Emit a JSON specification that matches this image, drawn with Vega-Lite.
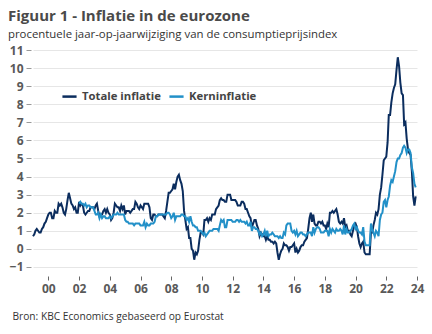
{
"$schema": "https://vega.github.io/schema/vega-lite/v6.json",
"width": 384, "height": 226,
"autosize": {"type": "none"},
"padding": {"left": 33, "top": 50, "right": 15, "bottom": 58},
"background": "white",
"config": {"view": {"stroke": null}, "font": "Open Sans"},
"title": {"text": "Figuur 1 - Inflatie in de eurozone", "subtitle": "procentuele jaar-op-jaarwijziging van de consumptieprijsindex", "anchor": "start", "frame": "group", "dx": -25, "offset": 4, "font": "Open Sans", "fontSize": 15, "fontWeight": "bold", "color": "#4a4a4a", "subtitleFont": "Open Sans", "subtitleFontSize": 11.4, "subtitleColor": "#333333", "subtitlePadding": 5},
"data": {"values": [
{"maand":"1999-01","Totale inflatie":0.7,"Kerninflatie":null},{"maand":"1999-02","Totale inflatie":0.8,"Kerninflatie":null},{"maand":"1999-03","Totale inflatie":1.0,"Kerninflatie":null},{"maand":"1999-04","Totale inflatie":1.1,"Kerninflatie":null},{"maand":"1999-05","Totale inflatie":1.0,"Kerninflatie":null},{"maand":"1999-06","Totale inflatie":0.9,"Kerninflatie":null},{"maand":"1999-07","Totale inflatie":0.9,"Kerninflatie":null},{"maand":"1999-08","Totale inflatie":1.1,"Kerninflatie":null},{"maand":"1999-09","Totale inflatie":1.2,"Kerninflatie":null},{"maand":"1999-10","Totale inflatie":1.4,"Kerninflatie":null},{"maand":"1999-11","Totale inflatie":1.5,"Kerninflatie":null},{"maand":"1999-12","Totale inflatie":1.7,"Kerninflatie":null},
{"maand":"2000-01","Totale inflatie":1.9,"Kerninflatie":null},{"maand":"2000-02","Totale inflatie":2.0,"Kerninflatie":null},{"maand":"2000-03","Totale inflatie":2.0,"Kerninflatie":null},{"maand":"2000-04","Totale inflatie":1.7,"Kerninflatie":null},{"maand":"2000-05","Totale inflatie":1.7,"Kerninflatie":null},{"maand":"2000-06","Totale inflatie":2.1,"Kerninflatie":null},{"maand":"2000-07","Totale inflatie":2.0,"Kerninflatie":null},{"maand":"2000-08","Totale inflatie":2.0,"Kerninflatie":null},{"maand":"2000-09","Totale inflatie":2.5,"Kerninflatie":null},{"maand":"2000-10","Totale inflatie":2.4,"Kerninflatie":null},{"maand":"2000-11","Totale inflatie":2.5,"Kerninflatie":null},{"maand":"2000-12","Totale inflatie":2.3,"Kerninflatie":null},
{"maand":"2001-01","Totale inflatie":2.0,"Kerninflatie":null},{"maand":"2001-02","Totale inflatie":1.9,"Kerninflatie":null},{"maand":"2001-03","Totale inflatie":2.2,"Kerninflatie":null},{"maand":"2001-04","Totale inflatie":2.7,"Kerninflatie":null},{"maand":"2001-05","Totale inflatie":3.1,"Kerninflatie":null},{"maand":"2001-06","Totale inflatie":2.8,"Kerninflatie":null},{"maand":"2001-07","Totale inflatie":2.5,"Kerninflatie":null},{"maand":"2001-08","Totale inflatie":2.4,"Kerninflatie":null},{"maand":"2001-09","Totale inflatie":2.2,"Kerninflatie":null},{"maand":"2001-10","Totale inflatie":2.3,"Kerninflatie":null},{"maand":"2001-11","Totale inflatie":2.0,"Kerninflatie":null},{"maand":"2001-12","Totale inflatie":2.0,"Kerninflatie":null},
{"maand":"2002-01","Totale inflatie":2.6,"Kerninflatie":2.5},{"maand":"2002-02","Totale inflatie":2.4,"Kerninflatie":2.6},{"maand":"2002-03","Totale inflatie":2.5,"Kerninflatie":2.5},{"maand":"2002-04","Totale inflatie":2.4,"Kerninflatie":2.5},{"maand":"2002-05","Totale inflatie":2.0,"Kerninflatie":2.4},{"maand":"2002-06","Totale inflatie":1.9,"Kerninflatie":2.5},{"maand":"2002-07","Totale inflatie":2.0,"Kerninflatie":2.3},{"maand":"2002-08","Totale inflatie":2.1,"Kerninflatie":2.4},{"maand":"2002-09","Totale inflatie":2.1,"Kerninflatie":2.4},{"maand":"2002-10","Totale inflatie":2.3,"Kerninflatie":2.3},{"maand":"2002-11","Totale inflatie":2.3,"Kerninflatie":2.3},{"maand":"2002-12","Totale inflatie":2.3,"Kerninflatie":2.3},
{"maand":"2003-01","Totale inflatie":2.2,"Kerninflatie":2.1},{"maand":"2003-02","Totale inflatie":2.4,"Kerninflatie":1.9},{"maand":"2003-03","Totale inflatie":2.5,"Kerninflatie":1.9},{"maand":"2003-04","Totale inflatie":2.1,"Kerninflatie":2.0},{"maand":"2003-05","Totale inflatie":1.8,"Kerninflatie":1.7},{"maand":"2003-06","Totale inflatie":1.9,"Kerninflatie":1.9},{"maand":"2003-07","Totale inflatie":1.9,"Kerninflatie":1.7},{"maand":"2003-08","Totale inflatie":2.1,"Kerninflatie":1.8},{"maand":"2003-09","Totale inflatie":2.2,"Kerninflatie":1.8},{"maand":"2003-10","Totale inflatie":2.0,"Kerninflatie":1.7},{"maand":"2003-11","Totale inflatie":2.2,"Kerninflatie":1.7},{"maand":"2003-12","Totale inflatie":2.0,"Kerninflatie":1.7},
{"maand":"2004-01","Totale inflatie":1.9,"Kerninflatie":1.8},{"maand":"2004-02","Totale inflatie":1.6,"Kerninflatie":1.7},{"maand":"2004-03","Totale inflatie":1.7,"Kerninflatie":1.8},{"maand":"2004-04","Totale inflatie":2.0,"Kerninflatie":1.9},{"maand":"2004-05","Totale inflatie":2.5,"Kerninflatie":1.9},{"maand":"2004-06","Totale inflatie":2.4,"Kerninflatie":1.9},{"maand":"2004-07","Totale inflatie":2.3,"Kerninflatie":2.0},{"maand":"2004-08","Totale inflatie":2.3,"Kerninflatie":1.9},{"maand":"2004-09","Totale inflatie":2.1,"Kerninflatie":1.9},{"maand":"2004-10","Totale inflatie":2.4,"Kerninflatie":1.9},{"maand":"2004-11","Totale inflatie":2.2,"Kerninflatie":1.9},{"maand":"2004-12","Totale inflatie":2.4,"Kerninflatie":1.9},
{"maand":"2005-01","Totale inflatie":1.9,"Kerninflatie":1.6},{"maand":"2005-02","Totale inflatie":2.1,"Kerninflatie":1.5},{"maand":"2005-03","Totale inflatie":2.1,"Kerninflatie":1.5},{"maand":"2005-04","Totale inflatie":2.1,"Kerninflatie":1.4},{"maand":"2005-05","Totale inflatie":2.0,"Kerninflatie":1.4},{"maand":"2005-06","Totale inflatie":2.1,"Kerninflatie":1.4},{"maand":"2005-07","Totale inflatie":2.2,"Kerninflatie":1.4},{"maand":"2005-08","Totale inflatie":2.2,"Kerninflatie":1.3},{"maand":"2005-09","Totale inflatie":2.6,"Kerninflatie":1.4},{"maand":"2005-10","Totale inflatie":2.5,"Kerninflatie":1.4},{"maand":"2005-11","Totale inflatie":2.3,"Kerninflatie":1.4},{"maand":"2005-12","Totale inflatie":2.2,"Kerninflatie":1.4},
{"maand":"2006-01","Totale inflatie":2.4,"Kerninflatie":1.3},{"maand":"2006-02","Totale inflatie":2.3,"Kerninflatie":1.3},{"maand":"2006-03","Totale inflatie":2.2,"Kerninflatie":1.3},{"maand":"2006-04","Totale inflatie":2.5,"Kerninflatie":1.5},{"maand":"2006-05","Totale inflatie":2.5,"Kerninflatie":1.2},{"maand":"2006-06","Totale inflatie":2.5,"Kerninflatie":1.4},{"maand":"2006-07","Totale inflatie":2.5,"Kerninflatie":1.3},{"maand":"2006-08","Totale inflatie":2.3,"Kerninflatie":1.3},{"maand":"2006-09","Totale inflatie":1.7,"Kerninflatie":1.4},{"maand":"2006-10","Totale inflatie":1.6,"Kerninflatie":1.4},{"maand":"2006-11","Totale inflatie":1.9,"Kerninflatie":1.4},{"maand":"2006-12","Totale inflatie":1.9,"Kerninflatie":1.5},
{"maand":"2007-01","Totale inflatie":1.8,"Kerninflatie":1.8},{"maand":"2007-02","Totale inflatie":1.8,"Kerninflatie":1.8},{"maand":"2007-03","Totale inflatie":1.9,"Kerninflatie":1.9},{"maand":"2007-04","Totale inflatie":1.9,"Kerninflatie":1.9},{"maand":"2007-05","Totale inflatie":1.9,"Kerninflatie":1.9},{"maand":"2007-06","Totale inflatie":1.9,"Kerninflatie":1.9},{"maand":"2007-07","Totale inflatie":1.8,"Kerninflatie":1.9},{"maand":"2007-08","Totale inflatie":1.7,"Kerninflatie":1.9},{"maand":"2007-09","Totale inflatie":2.1,"Kerninflatie":1.9},{"maand":"2007-10","Totale inflatie":2.6,"Kerninflatie":2.0},{"maand":"2007-11","Totale inflatie":3.1,"Kerninflatie":2.0},{"maand":"2007-12","Totale inflatie":3.1,"Kerninflatie":1.9},
{"maand":"2008-01","Totale inflatie":3.2,"Kerninflatie":1.7},{"maand":"2008-02","Totale inflatie":3.3,"Kerninflatie":1.8},{"maand":"2008-03","Totale inflatie":3.6,"Kerninflatie":2.0},{"maand":"2008-04","Totale inflatie":3.3,"Kerninflatie":1.6},{"maand":"2008-05","Totale inflatie":3.7,"Kerninflatie":1.8},{"maand":"2008-06","Totale inflatie":4.0,"Kerninflatie":1.8},{"maand":"2008-07","Totale inflatie":4.1,"Kerninflatie":1.8},{"maand":"2008-08","Totale inflatie":3.8,"Kerninflatie":1.8},{"maand":"2008-09","Totale inflatie":3.6,"Kerninflatie":1.9},{"maand":"2008-10","Totale inflatie":3.2,"Kerninflatie":1.9},{"maand":"2008-11","Totale inflatie":2.1,"Kerninflatie":1.8},{"maand":"2008-12","Totale inflatie":1.6,"Kerninflatie":1.8},
{"maand":"2009-01","Totale inflatie":1.1,"Kerninflatie":1.6},{"maand":"2009-02","Totale inflatie":1.2,"Kerninflatie":1.7},{"maand":"2009-03","Totale inflatie":0.6,"Kerninflatie":1.5},{"maand":"2009-04","Totale inflatie":0.6,"Kerninflatie":1.8},{"maand":"2009-05","Totale inflatie":0.0,"Kerninflatie":1.5},{"maand":"2009-06","Totale inflatie":-0.1,"Kerninflatie":1.3},{"maand":"2009-07","Totale inflatie":-0.6,"Kerninflatie":1.3},{"maand":"2009-08","Totale inflatie":-0.2,"Kerninflatie":1.2},{"maand":"2009-09","Totale inflatie":-0.3,"Kerninflatie":1.2},{"maand":"2009-10","Totale inflatie":-0.1,"Kerninflatie":1.0},{"maand":"2009-11","Totale inflatie":0.5,"Kerninflatie":1.0},{"maand":"2009-12","Totale inflatie":0.9,"Kerninflatie":1.0},
{"maand":"2010-01","Totale inflatie":0.9,"Kerninflatie":0.9},{"maand":"2010-02","Totale inflatie":0.8,"Kerninflatie":0.8},{"maand":"2010-03","Totale inflatie":1.6,"Kerninflatie":0.9},{"maand":"2010-04","Totale inflatie":1.6,"Kerninflatie":0.7},{"maand":"2010-05","Totale inflatie":1.7,"Kerninflatie":0.8},{"maand":"2010-06","Totale inflatie":1.5,"Kerninflatie":0.9},{"maand":"2010-07","Totale inflatie":1.7,"Kerninflatie":1.0},{"maand":"2010-08","Totale inflatie":1.6,"Kerninflatie":1.0},{"maand":"2010-09","Totale inflatie":1.9,"Kerninflatie":1.0},{"maand":"2010-10","Totale inflatie":1.9,"Kerninflatie":1.1},{"maand":"2010-11","Totale inflatie":1.9,"Kerninflatie":1.1},{"maand":"2010-12","Totale inflatie":2.2,"Kerninflatie":1.1},
{"maand":"2011-01","Totale inflatie":2.3,"Kerninflatie":1.1},{"maand":"2011-02","Totale inflatie":2.4,"Kerninflatie":1.0},{"maand":"2011-03","Totale inflatie":2.7,"Kerninflatie":1.3},{"maand":"2011-04","Totale inflatie":2.8,"Kerninflatie":1.6},{"maand":"2011-05","Totale inflatie":2.7,"Kerninflatie":1.5},{"maand":"2011-06","Totale inflatie":2.7,"Kerninflatie":1.6},{"maand":"2011-07","Totale inflatie":2.6,"Kerninflatie":1.2},{"maand":"2011-08","Totale inflatie":2.6,"Kerninflatie":1.2},{"maand":"2011-09","Totale inflatie":3.0,"Kerninflatie":1.6},{"maand":"2011-10","Totale inflatie":3.0,"Kerninflatie":1.6},{"maand":"2011-11","Totale inflatie":3.0,"Kerninflatie":1.6},{"maand":"2011-12","Totale inflatie":2.7,"Kerninflatie":1.6},
{"maand":"2012-01","Totale inflatie":2.7,"Kerninflatie":1.5},{"maand":"2012-02","Totale inflatie":2.7,"Kerninflatie":1.5},{"maand":"2012-03","Totale inflatie":2.7,"Kerninflatie":1.5},{"maand":"2012-04","Totale inflatie":2.6,"Kerninflatie":1.6},{"maand":"2012-05","Totale inflatie":2.4,"Kerninflatie":1.6},{"maand":"2012-06","Totale inflatie":2.4,"Kerninflatie":1.5},{"maand":"2012-07","Totale inflatie":2.4,"Kerninflatie":1.6},{"maand":"2012-08","Totale inflatie":2.6,"Kerninflatie":1.5},{"maand":"2012-09","Totale inflatie":2.6,"Kerninflatie":1.5},{"maand":"2012-10","Totale inflatie":2.5,"Kerninflatie":1.5},{"maand":"2012-11","Totale inflatie":2.2,"Kerninflatie":1.4},{"maand":"2012-12","Totale inflatie":2.2,"Kerninflatie":1.5},
{"maand":"2013-01","Totale inflatie":2.0,"Kerninflatie":1.3},{"maand":"2013-02","Totale inflatie":1.8,"Kerninflatie":1.3},{"maand":"2013-03","Totale inflatie":1.7,"Kerninflatie":1.5},{"maand":"2013-04","Totale inflatie":1.2,"Kerninflatie":1.0},{"maand":"2013-05","Totale inflatie":1.4,"Kerninflatie":1.2},{"maand":"2013-06","Totale inflatie":1.6,"Kerninflatie":1.2},{"maand":"2013-07","Totale inflatie":1.6,"Kerninflatie":1.1},{"maand":"2013-08","Totale inflatie":1.3,"Kerninflatie":1.1},{"maand":"2013-09","Totale inflatie":1.1,"Kerninflatie":1.0},{"maand":"2013-10","Totale inflatie":0.7,"Kerninflatie":0.8},{"maand":"2013-11","Totale inflatie":0.9,"Kerninflatie":0.9},{"maand":"2013-12","Totale inflatie":0.8,"Kerninflatie":0.7},
{"maand":"2014-01","Totale inflatie":0.7,"Kerninflatie":0.8},{"maand":"2014-02","Totale inflatie":0.7,"Kerninflatie":1.0},{"maand":"2014-03","Totale inflatie":0.5,"Kerninflatie":0.7},{"maand":"2014-04","Totale inflatie":0.7,"Kerninflatie":1.0},{"maand":"2014-05","Totale inflatie":0.5,"Kerninflatie":0.7},{"maand":"2014-06","Totale inflatie":0.5,"Kerninflatie":0.8},{"maand":"2014-07","Totale inflatie":0.4,"Kerninflatie":0.8},{"maand":"2014-08","Totale inflatie":0.4,"Kerninflatie":0.9},{"maand":"2014-09","Totale inflatie":0.3,"Kerninflatie":0.8},{"maand":"2014-10","Totale inflatie":0.4,"Kerninflatie":0.7},{"maand":"2014-11","Totale inflatie":0.3,"Kerninflatie":0.7},{"maand":"2014-12","Totale inflatie":-0.2,"Kerninflatie":0.7},
{"maand":"2015-01","Totale inflatie":-0.6,"Kerninflatie":0.6},{"maand":"2015-02","Totale inflatie":-0.3,"Kerninflatie":0.7},{"maand":"2015-03","Totale inflatie":-0.1,"Kerninflatie":0.6},{"maand":"2015-04","Totale inflatie":0.0,"Kerninflatie":0.6},{"maand":"2015-05","Totale inflatie":0.3,"Kerninflatie":0.9},{"maand":"2015-06","Totale inflatie":0.2,"Kerninflatie":0.8},{"maand":"2015-07","Totale inflatie":0.2,"Kerninflatie":1.3},{"maand":"2015-08","Totale inflatie":0.1,"Kerninflatie":1.4},{"maand":"2015-09","Totale inflatie":-0.1,"Kerninflatie":1.4},{"maand":"2015-10","Totale inflatie":0.1,"Kerninflatie":1.4},{"maand":"2015-11","Totale inflatie":0.1,"Kerninflatie":1.0},{"maand":"2015-12","Totale inflatie":0.2,"Kerninflatie":0.9},
{"maand":"2016-01","Totale inflatie":0.3,"Kerninflatie":1.0},{"maand":"2016-02","Totale inflatie":-0.2,"Kerninflatie":0.8},{"maand":"2016-03","Totale inflatie":0.0,"Kerninflatie":1.0},{"maand":"2016-04","Totale inflatie":-0.2,"Kerninflatie":0.7},{"maand":"2016-05","Totale inflatie":-0.1,"Kerninflatie":0.8},{"maand":"2016-06","Totale inflatie":0.1,"Kerninflatie":0.9},{"maand":"2016-07","Totale inflatie":0.2,"Kerninflatie":0.9},{"maand":"2016-08","Totale inflatie":0.2,"Kerninflatie":0.8},{"maand":"2016-09","Totale inflatie":0.4,"Kerninflatie":0.8},{"maand":"2016-10","Totale inflatie":0.5,"Kerninflatie":0.7},{"maand":"2016-11","Totale inflatie":0.6,"Kerninflatie":0.8},{"maand":"2016-12","Totale inflatie":1.1,"Kerninflatie":0.9},
{"maand":"2017-01","Totale inflatie":1.7,"Kerninflatie":0.9},{"maand":"2017-02","Totale inflatie":2.0,"Kerninflatie":0.9},{"maand":"2017-03","Totale inflatie":1.5,"Kerninflatie":0.7},{"maand":"2017-04","Totale inflatie":1.9,"Kerninflatie":1.2},{"maand":"2017-05","Totale inflatie":1.4,"Kerninflatie":0.9},{"maand":"2017-06","Totale inflatie":1.3,"Kerninflatie":1.1},{"maand":"2017-07","Totale inflatie":1.3,"Kerninflatie":1.2},{"maand":"2017-08","Totale inflatie":1.5,"Kerninflatie":1.2},{"maand":"2017-09","Totale inflatie":1.5,"Kerninflatie":1.1},{"maand":"2017-10","Totale inflatie":1.4,"Kerninflatie":0.9},{"maand":"2017-11","Totale inflatie":1.5,"Kerninflatie":0.9},{"maand":"2017-12","Totale inflatie":1.3,"Kerninflatie":0.9},
{"maand":"2018-01","Totale inflatie":1.3,"Kerninflatie":1.0},{"maand":"2018-02","Totale inflatie":1.1,"Kerninflatie":1.0},{"maand":"2018-03","Totale inflatie":1.4,"Kerninflatie":1.0},{"maand":"2018-04","Totale inflatie":1.2,"Kerninflatie":0.7},{"maand":"2018-05","Totale inflatie":2.0,"Kerninflatie":1.1},{"maand":"2018-06","Totale inflatie":2.0,"Kerninflatie":0.9},{"maand":"2018-07","Totale inflatie":2.1,"Kerninflatie":1.1},{"maand":"2018-08","Totale inflatie":2.0,"Kerninflatie":1.0},{"maand":"2018-09","Totale inflatie":2.1,"Kerninflatie":0.9},{"maand":"2018-10","Totale inflatie":2.2,"Kerninflatie":1.1},{"maand":"2018-11","Totale inflatie":1.9,"Kerninflatie":1.0},{"maand":"2018-12","Totale inflatie":1.5,"Kerninflatie":1.0},
{"maand":"2019-01","Totale inflatie":1.4,"Kerninflatie":1.1},{"maand":"2019-02","Totale inflatie":1.5,"Kerninflatie":1.0},{"maand":"2019-03","Totale inflatie":1.4,"Kerninflatie":0.8},{"maand":"2019-04","Totale inflatie":1.7,"Kerninflatie":1.3},{"maand":"2019-05","Totale inflatie":1.2,"Kerninflatie":0.8},{"maand":"2019-06","Totale inflatie":1.3,"Kerninflatie":1.1},{"maand":"2019-07","Totale inflatie":1.0,"Kerninflatie":0.9},{"maand":"2019-08","Totale inflatie":1.0,"Kerninflatie":0.9},{"maand":"2019-09","Totale inflatie":0.8,"Kerninflatie":1.0},{"maand":"2019-10","Totale inflatie":0.7,"Kerninflatie":1.1},{"maand":"2019-11","Totale inflatie":1.0,"Kerninflatie":1.3},{"maand":"2019-12","Totale inflatie":1.3,"Kerninflatie":1.4},
{"maand":"2020-01","Totale inflatie":1.4,"Kerninflatie":1.1},{"maand":"2020-02","Totale inflatie":1.2,"Kerninflatie":1.2},{"maand":"2020-03","Totale inflatie":0.7,"Kerninflatie":1.0},{"maand":"2020-04","Totale inflatie":0.3,"Kerninflatie":0.9},{"maand":"2020-05","Totale inflatie":0.1,"Kerninflatie":0.9},{"maand":"2020-06","Totale inflatie":0.3,"Kerninflatie":0.8},{"maand":"2020-07","Totale inflatie":0.4,"Kerninflatie":1.2},{"maand":"2020-08","Totale inflatie":-0.2,"Kerninflatie":0.4},{"maand":"2020-09","Totale inflatie":-0.3,"Kerninflatie":0.2},{"maand":"2020-10","Totale inflatie":-0.3,"Kerninflatie":0.2},{"maand":"2020-11","Totale inflatie":-0.3,"Kerninflatie":0.2},{"maand":"2020-12","Totale inflatie":-0.3,"Kerninflatie":0.2},
{"maand":"2021-01","Totale inflatie":0.9,"Kerninflatie":1.4},{"maand":"2021-02","Totale inflatie":0.9,"Kerninflatie":1.1},{"maand":"2021-03","Totale inflatie":1.3,"Kerninflatie":0.9},{"maand":"2021-04","Totale inflatie":1.6,"Kerninflatie":0.7},{"maand":"2021-05","Totale inflatie":2.0,"Kerninflatie":1.0},{"maand":"2021-06","Totale inflatie":1.9,"Kerninflatie":0.9},{"maand":"2021-07","Totale inflatie":2.2,"Kerninflatie":0.7},{"maand":"2021-08","Totale inflatie":3.0,"Kerninflatie":1.6},{"maand":"2021-09","Totale inflatie":3.4,"Kerninflatie":1.9},{"maand":"2021-10","Totale inflatie":4.1,"Kerninflatie":2.0},{"maand":"2021-11","Totale inflatie":4.9,"Kerninflatie":2.6},{"maand":"2021-12","Totale inflatie":5.0,"Kerninflatie":2.7},
{"maand":"2022-01","Totale inflatie":5.1,"Kerninflatie":2.3},{"maand":"2022-02","Totale inflatie":5.9,"Kerninflatie":2.7},{"maand":"2022-03","Totale inflatie":7.4,"Kerninflatie":2.9},{"maand":"2022-04","Totale inflatie":7.4,"Kerninflatie":3.5},{"maand":"2022-05","Totale inflatie":8.1,"Kerninflatie":3.8},{"maand":"2022-06","Totale inflatie":8.6,"Kerninflatie":3.7},{"maand":"2022-07","Totale inflatie":8.9,"Kerninflatie":4.0},{"maand":"2022-08","Totale inflatie":9.1,"Kerninflatie":4.3},{"maand":"2022-09","Totale inflatie":9.9,"Kerninflatie":4.8},{"maand":"2022-10","Totale inflatie":10.6,"Kerninflatie":5.0},{"maand":"2022-11","Totale inflatie":10.1,"Kerninflatie":5.0},{"maand":"2022-12","Totale inflatie":9.2,"Kerninflatie":5.2},
{"maand":"2023-01","Totale inflatie":8.6,"Kerninflatie":5.3},{"maand":"2023-02","Totale inflatie":8.5,"Kerninflatie":5.6},{"maand":"2023-03","Totale inflatie":6.9,"Kerninflatie":5.7},{"maand":"2023-04","Totale inflatie":7.0,"Kerninflatie":5.6},{"maand":"2023-05","Totale inflatie":6.1,"Kerninflatie":5.3},{"maand":"2023-06","Totale inflatie":5.5,"Kerninflatie":5.5},{"maand":"2023-07","Totale inflatie":5.3,"Kerninflatie":5.5},{"maand":"2023-08","Totale inflatie":5.2,"Kerninflatie":5.3},{"maand":"2023-09","Totale inflatie":4.3,"Kerninflatie":4.5},{"maand":"2023-10","Totale inflatie":2.9,"Kerninflatie":4.2},{"maand":"2023-11","Totale inflatie":2.4,"Kerninflatie":3.6},{"maand":"2023-12","Totale inflatie":2.9,"Kerninflatie":3.4}
]},
"transform": [{"fold": ["Totale inflatie", "Kerninflatie"], "as": ["reeks", "waarde"]}],
"mark": {"type": "line", "strokeWidth": 2, "clip": false},
"encoding": {
"x": {"field": "maand", "type": "temporal",
"scale": {"type": "utc", "domain": [{"year": 1999, "month": 1, "date": 1, "utc": true}, {"year": 2024, "month": 1, "date": 1, "utc": true}]},
"axis": {"title": "Bron: KBC Economics gebaseerd op Eurostat", "titleFont": "Open Sans", "titleFontSize": 10.2, "titleFontWeight": "normal", "titleColor": "#333333", "titleX": -21, "titleY": 40, "titleAlign": "left", "titleBaseline": "middle", "titleAnchor": "start",
"values": [{"year": 2000, "utc": true}, {"year": 2002, "utc": true}, {"year": 2004, "utc": true}, {"year": 2006, "utc": true}, {"year": 2008, "utc": true}, {"year": 2010, "utc": true}, {"year": 2012, "utc": true}, {"year": 2014, "utc": true}, {"year": 2016, "utc": true}, {"year": 2018, "utc": true}, {"year": 2020, "utc": true}, {"year": 2022, "utc": true}, {"year": 2024, "utc": true}],
"format": "%y", "domain": false, "grid": false, "ticks": true, "tickSize": 4, "tickColor": "#666666", "tickWidth": 1, "labelFont": "Open Sans", "labelFontSize": 12, "labelFontWeight": "bold", "labelColor": "#595959", "labelPadding": 3, "labelFlush": false}},
"y": {"field": "waarde", "type": "quantitative",
"scale": {"domain": [-1.5, 11], "nice": false, "zero": false},
"axis": {"title": null, "values": [-1, 0, 1, 2, 3, 4, 5, 6, 7, 8, 9, 10, 11], "domain": false, "offset": 2, "tickSize": 5, "tickColor": "#999999", "grid": true, "gridColor": "#e6e6e6", "gridWidth": 1, "labelFont": "Open Sans", "labelFontSize": 12, "labelFontWeight": "bold", "labelColor": "#595959", "labelPadding": 3}},
"color": {"field": "reeks", "type": "nominal",
"scale": {"domain": ["Totale inflatie", "Kerninflatie"], "range": ["#0b2d5e", "#2290c8"]},
"legend": {"title": null, "orient": "none", "legendX": 28, "legendY": 38, "direction": "horizontal", "symbolType": "stroke", "symbolStrokeWidth": 2.5, "symbolSize": 200, "labelFont": "Open Sans", "labelFontSize": 11.3, "labelFontWeight": "bold", "labelColor": "#444444", "columnPadding": 3, "labelOffset": 4}}
}
}
